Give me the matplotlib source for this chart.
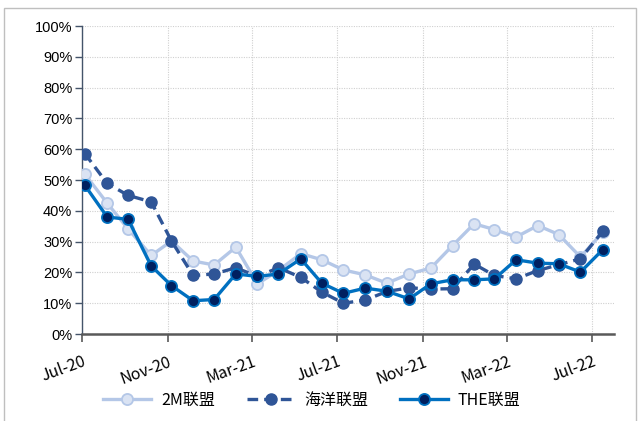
import matplotlib
matplotlib.use("Agg")
import matplotlib.pyplot as plt
from matplotlib.patches import Rectangle
from matplotlib.ticker import FuncFormatter, MultipleLocator
import pandas as pd

plt.rcParams['font.family'] = ['Noto Sans CJK SC', 'DejaVu Sans']

dates = ["2020-07-05", "2020-08-06", "2020-09-05", "2020-10-08", "2020-11-06",
         "2020-12-07", "2021-01-06", "2021-02-06", "2021-03-09", "2021-04-08",
         "2021-05-10", "2021-06-09", "2021-07-10", "2021-08-10", "2021-09-10",
         "2021-10-12", "2021-11-12", "2021-12-13", "2022-01-13", "2022-02-11",
         "2022-03-14", "2022-04-14", "2022-05-14", "2022-06-14", "2022-07-16"]

series_names = ["2M联盟", "海洋联盟", "THE联盟"]

v_2m = [51.9, 42.5, 34.1, 25.5, 30.2, 23.7, 22.4, 28.2, 16.3, 20.6,
        26.1, 24.1, 20.8, 19.2, 16.5, 19.5, 21.4, 28.7, 35.8, 33.9,
        31.5, 35.2, 32.3, 25.0, 33.0]
v_ocean = [58.6, 48.9, 45.0, 42.9, 30.2, 19.0, 19.5, 21.5, 18.7, 21.5,
           18.4, 13.6, 10.0, 11.0, 13.8, 15.0, 14.6, 14.7, 22.7, 19.0,
           17.9, 20.6, 22.5, 24.4, 33.4]
v_the = [48.3, 38.0, 37.2, 22.1, 15.7, 10.8, 11.2, 19.5, 18.7, 19.5,
         24.4, 16.5, 13.2, 14.9, 13.9, 11.4, 16.3, 17.6, 17.6, 17.9,
         24.1, 23.0, 22.8, 20.1, 27.4]

x_ticks = ["2020-07-01", "2020-11-01", "2021-03-01", "2021-07-01",
           "2021-11-01", "2022-03-01", "2022-07-01"]
x_tick_labels = ["Jul-20", "Nov-20", "Mar-21", "Jul-21", "Nov-21", "Mar-22", "Jul-22"]

x = pd.to_datetime(dates)

fig = plt.figure(figsize=(6.41, 4.21), dpi=100)
ax = fig.add_axes([82/641, 1-334/421, (614-82)/641, (334-26)/421])

fig.patches.append(Rectangle((4/641, -0.01), 632/641, 1-8/421+0.01, transform=fig.transFigure,
                             fill=False, edgecolor='#BFBFBF', linewidth=1.0))

lw = 2.4
ax.plot(x, v_2m, color='#B4C7E7', lw=lw, marker='o', markersize=8,
        markerfacecolor='#DAE3F3', markeredgecolor='#B4C7E7', markeredgewidth=1.3,
        label=series_names[0], zorder=3)
ax.plot(x, v_ocean, color='#2F5597', lw=lw, ls=(0, (3.2, 1.8)), marker='o', markersize=8,
        markerfacecolor='#2F5597', markeredgecolor='#2F5597', markeredgewidth=1.0,
        label=series_names[1], zorder=4)
ax.plot(x, v_the, color='#0070C0', lw=lw, marker='o', markersize=8,
        markerfacecolor='#002060', markeredgecolor='#0070C0', markeredgewidth=1.3,
        label=series_names[2], zorder=5)

ax.set_ylim(0, 100)
ax.set_xlim(pd.Timestamp("2020-07-01"), pd.Timestamp("2022-08-01"))
ax.yaxis.set_major_locator(MultipleLocator(10))
ax.yaxis.set_major_formatter(FuncFormatter(lambda v, p: f"{int(v)}%"))
ax.set_xticks(pd.to_datetime(x_ticks))
ax.set_xticklabels(x_tick_labels, rotation=20, ha='right', rotation_mode='anchor',
                   fontsize=11.5, color='#000000')
for lab in ax.get_yticklabels():
    lab.set_fontsize(10.5)
    lab.set_family(['Liberation Sans', 'DejaVu Sans'])

ax.grid(True, color='#D0D0D0', linestyle=(0, (1, 1.2)), linewidth=0.8, zorder=0)
ax.set_axisbelow(True)
for s in ['top', 'right']:
    ax.spines[s].set_visible(False)
ax.spines['left'].set_color('#44546A')
ax.spines['left'].set_linewidth(1.0)
ax.spines['bottom'].set_color('#595959')
ax.spines['bottom'].set_linewidth(1.8)
ax.tick_params(axis='y', length=5, width=1.0, color='#44546A', pad=2)
ax.tick_params(axis='x', length=6, width=1.2, color='#595959', pad=8)

leg = fig.legend(loc='center', bbox_to_anchor=(312/641, 1-400/421), ncol=3, frameon=False,
                 fontsize=11.5, handlelength=3.0, columnspacing=2.0, handletextpad=0.6)

fig.savefig("out.png", dpi=100)
